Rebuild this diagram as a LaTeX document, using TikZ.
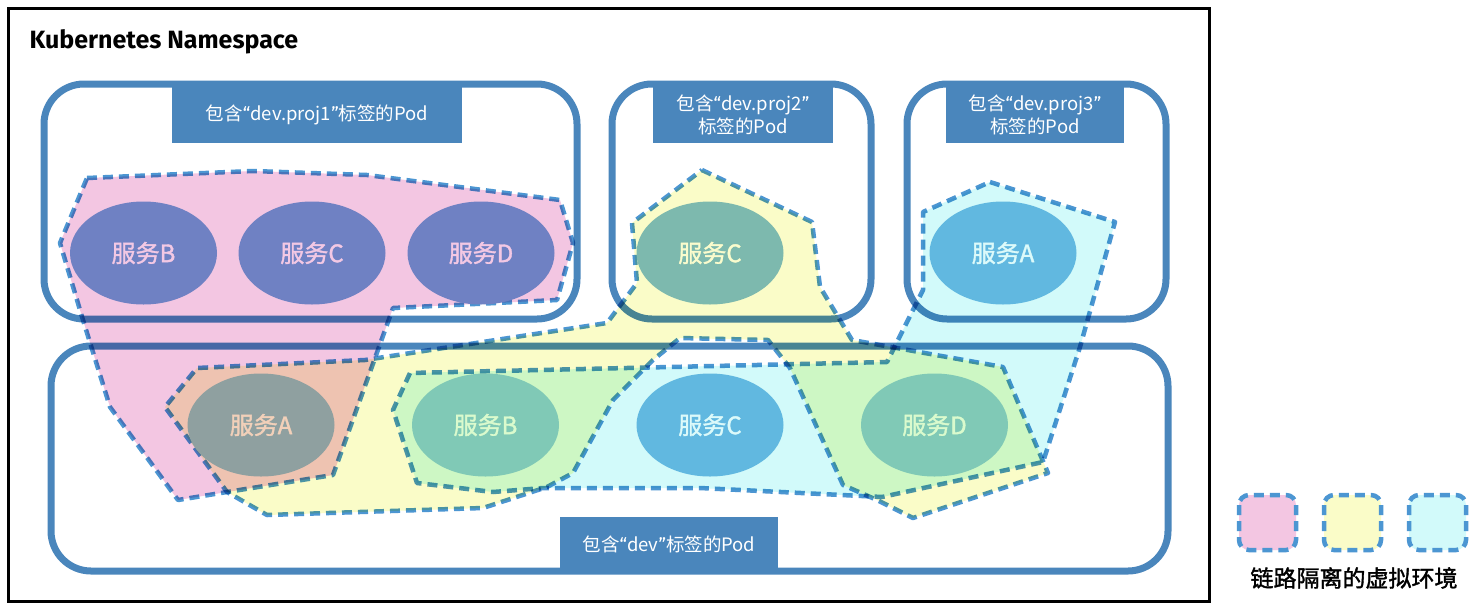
\documentclass[tikz,border=0pt]{standalone}
\usepackage{fontspec}
\setmainfont{Noto Sans CJK SC}
\newfontfamily\titlefont{Fira Sans}
\newfontfamily\legfont{Noto Sans CJK SC}[RawFeature={embolden=1.6}]
\newcommand{\myLq}{{\titlefont “}}
\newcommand{\myRq}{{\titlefont ”}}
\usetikzlibrary{shapes.geometric}
\definecolor{boxblue}{RGB}{74,134,188}
\definecolor{dashblue}{RGB}{76,150,210}
\definecolor{envpink}{RGB}{243,198,226}
\definecolor{envyellow}{RGB}{250,252,200}
\definecolor{envcyan}{RGB}{210,250,250}
\definecolor{svcpurple}{RGB}{111,129,195}
\definecolor{svcteal}{RGB}{125,185,174}
\definecolor{svcblue}{RGB}{97,184,224}
\definecolor{svcgray}{RGB}{143,160,160}
\definecolor{svcgreen}{RGB}{128,201,182}
\definecolor{txtpink}{RGB}{243,200,228}
\definecolor{txtyellow}{RGB}{250,252,205}
\definecolor{txtcyan}{RGB}{220,250,250}
\definecolor{txtpeach}{RGB}{242,208,185}
\definecolor{txtgreen}{RGB}{218,250,205}
\begin{document}
\begin{tikzpicture}[x=1pt,y=-1pt,
  boxline/.style={draw=boxblue,line width=7pt,rounded corners=40pt},
  lbl/.style={fill=boxblue,text=white,inner sep=0pt,align=center,font=\fontsize{18.5}{23}\selectfont},
  env/.style={draw=dashblue,line width=4.5pt,dash pattern=on 10pt off 6pt,line join=round},
  svc/.style={ellipse,minimum width=147pt,minimum height=103pt,inner sep=0pt,font=\legfont\fontsize{24}{26}\selectfont},
  legbox/.style={draw=dashblue,line width=4.5pt,dash pattern=on 10pt off 6pt,rounded corners=10pt}]
\fill[white] (0,0) rectangle (1478,614);
\useasboundingbox (0,0) rectangle (1478,614);
% outer frame
\draw[line width=3pt] (8,8) rectangle (1209,601);
\node[anchor=west,font=\titlefont\bfseries\fontsize{25}{28}\selectfont] (title) at (26,42) {Kubernetes Namespace};
% boxes
\draw[boxline] (44,84) rectangle (577,319);
\draw[boxline] (612,84) rectangle (871,319);
\draw[boxline] (907,84) rectangle (1166,319);
\draw[boxline] (51,346) rectangle (1168,571);
% labels
\node[lbl,minimum width=290pt,minimum height=56pt] (l1) at (317,115) {包含\myLq dev.proj1\myRq 标签的Pod};
\node[lbl,minimum width=180pt,minimum height=56pt] (l2) at (743,115) {包含\myLq dev.proj2\myRq\\标签的Pod};
\node[lbl,minimum width=178pt,minimum height=56pt] (l3) at (1035,115) {包含\myLq dev.proj3\myRq\\标签的Pod};
\node[lbl,minimum width=218pt,minimum height=54pt] (l4) at (669,544) {包含\myLq dev\myRq 标签的Pod};
% environments
\begin{scope}[blend mode=multiply]
\filldraw[env,fill=envpink] (87,178) -- (253,171) -- (367,175) -- (560,200) -- (573,243) -- (557,300) -- (393,308) -- (333,475) -- (227,492) -- (178,500) -- (110,407) -- (83,320) -- (60,243) -- cycle;
\filldraw[env,fill=envcyan] (990,182) -- (1115,222) -- (1080,347) -- (1043,462) -- (882,497) -- (700,488) -- (543,488) -- (493,492) -- (417,483) -- (393,410) -- (410,373) -- (887,362) -- (923,290) -- (923,212) -- cycle;
\filldraw[env,fill=envyellow] (702,170) -- (812,222) -- (820,287) -- (852,340) -- (1003,367) -- (1048,473) -- (913,518) -- (877,500) -- (843,485) -- (790,368) -- (768,340) -- (680,338) -- (653,360) -- (613,400) -- (573,473) -- (547,487) -- (483,508) -- (267,515) -- (227,492) -- (165,407) -- (197,368) -- (365,360) -- (607,323) -- (637,283) -- (632,223) -- cycle;
\end{scope}
% services
\node[svc,fill=svcpurple,text=txtpink] (tb) at (143.5,253) {服务B};
\node[svc,fill=svcpurple,text=txtpink] (tc) at (312,253) {服务C};
\node[svc,fill=svcpurple,text=txtpink] (td) at (481,253) {服务D};
\node[svc,fill=svcteal,text=txtyellow] (p2c) at (710,253) {服务C};
\node[svc,fill=svcblue,text=txtcyan] (p3a) at (1003,253) {服务A};
\node[svc,fill=svcgray,text=txtpeach] (ba) at (261,425) {服务A};
\node[svc,fill=svcgreen,text=txtgreen] (bb) at (485.5,425) {服务B};
\node[svc,fill=svcblue,text=txtcyan] (bc) at (710,425) {服务C};
\node[svc,fill=svcgreen,text=txtgreen] (bd) at (934.5,425) {服务D};
% legend
\draw[legbox,fill=envpink] (1239,495) rectangle (1296,550);
\draw[legbox,fill=envyellow] (1324,495) rectangle (1381,550);
\draw[legbox,fill=envcyan] (1409,495) rectangle (1466,550);
\node[font=\legfont\fontsize{23}{26}\selectfont] (leg) at (1354,578) {链路隔离的虚拟环境};
\end{tikzpicture}
\end{document}
